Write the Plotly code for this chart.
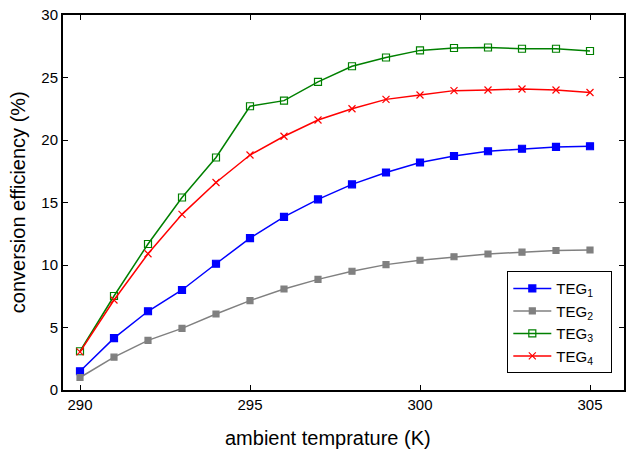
import plotly.graph_objects as go

temps = list(range(290, 306))
teg1 = [1.5, 4.15, 6.3, 8.0, 10.1, 12.15, 13.85, 15.25, 16.45, 17.4, 18.2, 18.72, 19.1, 19.3, 19.45, 19.5]
teg2 = [1.0, 2.63, 3.97, 4.93, 6.08, 7.15, 8.08, 8.85, 9.5, 10.03, 10.38, 10.66, 10.88, 11.03, 11.16, 11.2]
teg3 = [3.1, 7.52, 11.68, 15.4, 18.6, 22.7, 23.15, 24.65, 25.9, 26.6, 27.17, 27.36, 27.4, 27.3, 27.3, 27.12]
teg4 = [3.05, 7.2, 10.9, 14.05, 16.6, 18.8, 20.3, 21.6, 22.5, 23.25, 23.6, 23.95, 24.0, 24.08, 24.0, 23.8]

names = ["TEG<sub>1</sub>\u00a0\u00a0\u00a0", "TEG<sub>2</sub>\u00a0\u00a0\u00a0",
         "TEG<sub>3</sub>\u00a0\u00a0\u00a0", "TEG<sub>4</sub>\u00a0\u00a0\u00a0"]
colors = ["#0000FF", "#808080", "#008000", "#FF0000"]
symbols = ["square", "square", "square-open", "x-thin"]
sizes = [7, 6, 7, 7]

fig = go.Figure()
for y, n, c, s, sz in zip([teg1, teg2, teg3, teg4], names, colors, symbols, sizes):
    fig.add_trace(go.Scatter(
        x=temps, y=y, name=n, mode="lines+markers",
        line=dict(color=c, width=1.5),
        marker=dict(symbol=s, size=sz, color=c, line=dict(color=c, width=1.2)),
    ))

font = "Liberation Sans, Arial, sans-serif"
axis_common = dict(
    showline=True, linecolor="black", linewidth=2, mirror="ticks",
    ticks="inside", ticklen=5, tickcolor="black", tickwidth=1,
    showgrid=False, zeroline=False,
    tickfont=dict(family=font, size=15, color="black"),
)
fig.update_layout(
    width=628, height=450,
    margin=dict(l=63, r=2, t=15, b=60),
    paper_bgcolor="white", plot_bgcolor="white",
    font=dict(family=font, color="black"),
    xaxis=dict(range=[289.5, 306], tickvals=[290, 295, 300, 305], **axis_common),
    yaxis=dict(range=[0, 30], tickvals=[0, 5, 10, 15, 20, 25, 30], **axis_common),
    legend=dict(x=0.792, y=0.317, xanchor="left", yanchor="top",
                bgcolor="white", bordercolor="black", borderwidth=1,
                font=dict(family=font, size=15, color="black"),
                tracegroupgap=0, itemwidth=38),
    showlegend=True,
    annotations=[
        dict(text="ambient temprature (K)", xref="paper", yref="paper",
             x=0.4725, y=-0.128, xanchor="center", yanchor="middle",
             showarrow=False, font=dict(family=font, size=20, color="black")),
        dict(text="conversion efficiency (%)", xref="paper", yref="paper",
             x=-0.0808, y=0.5, xanchor="center", yanchor="middle", textangle=-90,
             showarrow=False, font=dict(family=font, size=20, color="black")),
    ],
)

fig.write_html("out.html")
